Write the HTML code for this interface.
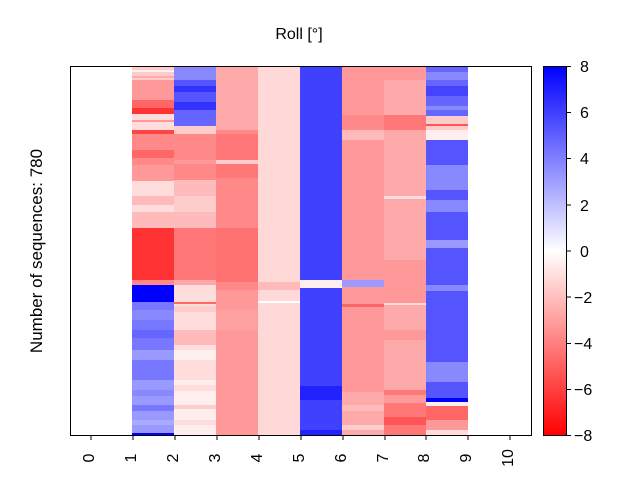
<!DOCTYPE html>
<html><head><meta charset="utf-8"><style>body{margin:0;background:#fff}svg{display:block}text{font-family:"Liberation Sans","DejaVu Sans",sans-serif;fill:#000}</style></head><body>
<svg width="640" height="480" xmlns="http://www.w3.org/2000/svg">
<defs><linearGradient id="cb" x1="0" y1="0" x2="0" y2="1"><stop offset="0" stop-color="#0000ff"/><stop offset="0.5" stop-color="#ffffff"/><stop offset="1" stop-color="#ff0000"/></linearGradient></defs>
<g shape-rendering="crispEdges">
<rect x="132" y="66" width="42" height="14" fill="#fcc"/>
<rect x="132" y="70" width="42" height="2" fill="#fee"/>
<rect x="132" y="76" width="42" height="2" fill="#faa"/>
<rect x="132" y="80" width="42" height="20" fill="#f99"/>
<rect x="132" y="100" width="42" height="8" fill="#f66"/>
<rect x="132" y="108" width="42" height="6" fill="#f33"/>
<rect x="132" y="114" width="42" height="16" fill="#fdd"/>
<rect x="132" y="120" width="42" height="2" fill="#f99"/>
<rect x="132" y="130" width="42" height="4" fill="#f44"/>
<rect x="132" y="134" width="42" height="16" fill="#f88"/>
<rect x="132" y="150" width="42" height="8" fill="#f66"/>
<rect x="132" y="158" width="42" height="7" fill="#f88"/>
<rect x="132" y="165" width="42" height="16" fill="#f99"/>
<rect x="132" y="181" width="42" height="15" fill="#fdd"/>
<rect x="132" y="196" width="42" height="9" fill="#fbb"/>
<rect x="132" y="205" width="42" height="7" fill="#fdd"/>
<rect x="132" y="212" width="42" height="16" fill="#fbb"/>
<rect x="132" y="228" width="42" height="52" fill="#f33"/>
<rect x="132" y="280" width="42" height="5" fill="#f88"/>
<rect x="132" y="285" width="42" height="17" fill="#00f"/>
<rect x="132" y="302" width="42" height="78" fill="#77f"/>
<rect x="132" y="310" width="42" height="10" fill="#88f"/>
<rect x="132" y="330" width="42" height="8" fill="#66f"/>
<rect x="132" y="350" width="42" height="10" fill="#99f"/>
<rect x="132" y="380" width="42" height="56" fill="#99f"/>
<rect x="132" y="390" width="42" height="6" fill="#88f"/>
<rect x="132" y="405" width="42" height="6" fill="#77f"/>
<rect x="132" y="420" width="42" height="5" fill="#aaf"/>
<rect x="132" y="433" width="42" height="3" fill="#00f"/>
<rect x="174" y="66" width="42" height="14" fill="#88f"/>
<rect x="174" y="80" width="42" height="6" fill="#55f"/>
<rect x="174" y="86" width="42" height="6" fill="#33f"/>
<rect x="174" y="92" width="42" height="10" fill="#55f"/>
<rect x="174" y="102" width="42" height="8" fill="#33f"/>
<rect x="174" y="110" width="42" height="16" fill="#66f"/>
<rect x="174" y="126" width="42" height="8" fill="#fcc"/>
<rect x="174" y="134" width="42" height="26" fill="#f88"/>
<rect x="174" y="160" width="42" height="4" fill="#f99"/>
<rect x="174" y="164" width="42" height="16" fill="#f88"/>
<rect x="174" y="180" width="42" height="16" fill="#fbb"/>
<rect x="174" y="196" width="42" height="16" fill="#fcc"/>
<rect x="174" y="212" width="42" height="16" fill="#fbb"/>
<rect x="174" y="228" width="42" height="52" fill="#f77"/>
<rect x="174" y="280" width="42" height="5" fill="#faa"/>
<rect x="174" y="285" width="42" height="45" fill="#fdd"/>
<rect x="174" y="302" width="42" height="2" fill="#f66"/>
<rect x="174" y="306" width="42" height="6" fill="#fcc"/>
<rect x="174" y="330" width="42" height="15" fill="#fbb"/>
<rect x="174" y="345" width="42" height="35" fill="#fdd"/>
<rect x="174" y="350" width="42" height="10" fill="#fee"/>
<rect x="174" y="380" width="42" height="56" fill="#fee"/>
<rect x="174" y="385" width="42" height="6" fill="#fdd"/>
<rect x="174" y="405" width="42" height="4" fill="#fcc"/>
<rect x="174" y="420" width="42" height="5" fill="#fdd"/>
<rect x="216" y="66" width="42" height="64" fill="#faa"/>
<rect x="216" y="130" width="42" height="4" fill="#f88"/>
<rect x="216" y="134" width="42" height="26" fill="#f77"/>
<rect x="216" y="160" width="42" height="4" fill="#fcc"/>
<rect x="216" y="164" width="42" height="14" fill="#f77"/>
<rect x="216" y="178" width="42" height="50" fill="#f88"/>
<rect x="216" y="228" width="42" height="54" fill="#ff7070"/>
<rect x="216" y="282" width="42" height="8" fill="#f88"/>
<rect x="216" y="290" width="42" height="146" fill="#f99"/>
<rect x="216" y="310" width="42" height="20" fill="#ffa0a0"/>
<rect x="258" y="66" width="42" height="370" fill="#ffd8d8"/>
<rect x="258" y="282" width="42" height="8" fill="#fbb"/>
<rect x="258" y="301" width="42" height="2" fill="#fff"/>
<rect x="300" y="66" width="42" height="370" fill="#4040ff"/>
<rect x="300" y="280" width="42" height="8" fill="#fee"/>
<rect x="300" y="386" width="42" height="14" fill="#22f"/>
<rect x="300" y="430" width="42" height="6" fill="#22f"/>
<rect x="342" y="66" width="42" height="370" fill="#f99"/>
<rect x="342" y="115" width="42" height="15" fill="#f88"/>
<rect x="342" y="130" width="42" height="10" fill="#fbb"/>
<rect x="342" y="280" width="42" height="7" fill="#99f"/>
<rect x="342" y="304" width="42" height="3" fill="#f66"/>
<rect x="342" y="392" width="42" height="44" fill="#faa"/>
<rect x="342" y="405" width="42" height="6" fill="#fbb"/>
<rect x="342" y="425" width="42" height="5" fill="#fcc"/>
<rect x="384" y="66" width="42" height="14" fill="#f99"/>
<rect x="384" y="80" width="42" height="35" fill="#faa"/>
<rect x="384" y="115" width="42" height="15" fill="#f77"/>
<rect x="384" y="130" width="42" height="130" fill="#faa"/>
<rect x="384" y="196" width="42" height="3" fill="#fdd"/>
<rect x="384" y="260" width="42" height="45" fill="#f99"/>
<rect x="384" y="303" width="42" height="3" fill="#fdd"/>
<rect x="384" y="305" width="42" height="85" fill="#faa"/>
<rect x="384" y="330" width="42" height="10" fill="#f99"/>
<rect x="384" y="390" width="42" height="46" fill="#f77"/>
<rect x="384" y="395" width="42" height="8" fill="#f99"/>
<rect x="384" y="417" width="42" height="8" fill="#f55"/>
<rect x="426" y="66" width="42" height="50" fill="#66f"/>
<rect x="426" y="72" width="42" height="8" fill="#88f"/>
<rect x="426" y="86" width="42" height="10" fill="#44f"/>
<rect x="426" y="106" width="42" height="4" fill="#88f"/>
<rect x="426" y="116" width="42" height="14" fill="#fcc"/>
<rect x="426" y="124" width="42" height="2" fill="#f55"/>
<rect x="426" y="130" width="42" height="10" fill="#fee"/>
<rect x="426" y="140" width="42" height="25" fill="#55f"/>
<rect x="426" y="165" width="42" height="25" fill="#88f"/>
<rect x="426" y="190" width="42" height="50" fill="#55f"/>
<rect x="426" y="200" width="42" height="12" fill="#88f"/>
<rect x="426" y="240" width="42" height="8" fill="#99f"/>
<rect x="426" y="248" width="42" height="150" fill="#55f"/>
<rect x="426" y="285" width="42" height="6" fill="#88f"/>
<rect x="426" y="362" width="42" height="20" fill="#88f"/>
<rect x="426" y="398" width="42" height="4" fill="#00f"/>
<rect x="426" y="402" width="42" height="4" fill="#fee"/>
<rect x="426" y="406" width="42" height="30" fill="#f66"/>
<rect x="426" y="420" width="42" height="10" fill="#f99"/>
<rect x="426" y="430" width="42" height="6" fill="#fdd"/>
</g>
<rect x="70.5" y="66.5" width="461" height="369" fill="none" stroke="#000" stroke-width="1"/>
<g stroke="#000">
<line x1="91" y1="436" x2="91" y2="440"/><line x1="133" y1="436" x2="133" y2="440"/><line x1="175" y1="436" x2="175" y2="440"/><line x1="217" y1="436" x2="217" y2="440"/><line x1="259" y1="436" x2="259" y2="440"/><line x1="301" y1="436" x2="301" y2="440"/><line x1="343" y1="436" x2="343" y2="440"/><line x1="385" y1="436" x2="385" y2="440"/><line x1="426" y1="436" x2="426" y2="440"/><line x1="468" y1="436" x2="468" y2="440"/><line x1="510" y1="436" x2="510" y2="440"/>
</g>
<g font-size="16" text-anchor="middle">
<text transform="translate(94,458) rotate(-90)">0</text>
<text transform="translate(136,458) rotate(-90)">1</text>
<text transform="translate(178,458) rotate(-90)">2</text>
<text transform="translate(220,458) rotate(-90)">3</text>
<text transform="translate(262,458) rotate(-90)">4</text>
<text transform="translate(304,458) rotate(-90)">5</text>
<text transform="translate(346,458) rotate(-90)">6</text>
<text transform="translate(388,458) rotate(-90)">7</text>
<text transform="translate(429,458) rotate(-90)">8</text>
<text transform="translate(471,458) rotate(-90)">9</text>
<text transform="translate(513,458) rotate(-90)">10</text>
</g>
<text x="299" y="39" font-size="16" text-anchor="middle">Roll [°]</text>
<text transform="translate(42,251) rotate(-90)" font-size="17" text-anchor="middle">Number of sequences: 780</text>
<rect x="543.5" y="66.5" width="23" height="369" fill="url(#cb)" stroke="#000" stroke-width="1"/>
<g stroke="#000"><line x1="567" y1="66.5" x2="571" y2="66.5"/><line x1="567" y1="112.5" x2="571" y2="112.5"/><line x1="567" y1="158.5" x2="571" y2="158.5"/><line x1="567" y1="205" x2="571" y2="205"/><line x1="567" y1="251" x2="571" y2="251"/><line x1="567" y1="297" x2="571" y2="297"/><line x1="567" y1="343.5" x2="571" y2="343.5"/><line x1="567" y1="389.5" x2="571" y2="389.5"/><line x1="567" y1="435.5" x2="571" y2="435.5"/></g>
<g font-size="16">
<text x="580" y="72">8</text><text x="580" y="118">6</text><text x="580" y="164">4</text><text x="580" y="211">2</text><text x="580" y="257">0</text><text x="574" y="303">−2</text><text x="574" y="349">−4</text><text x="574" y="395">−6</text><text x="574" y="441">−8</text>
</g>
</svg>
</body></html>
